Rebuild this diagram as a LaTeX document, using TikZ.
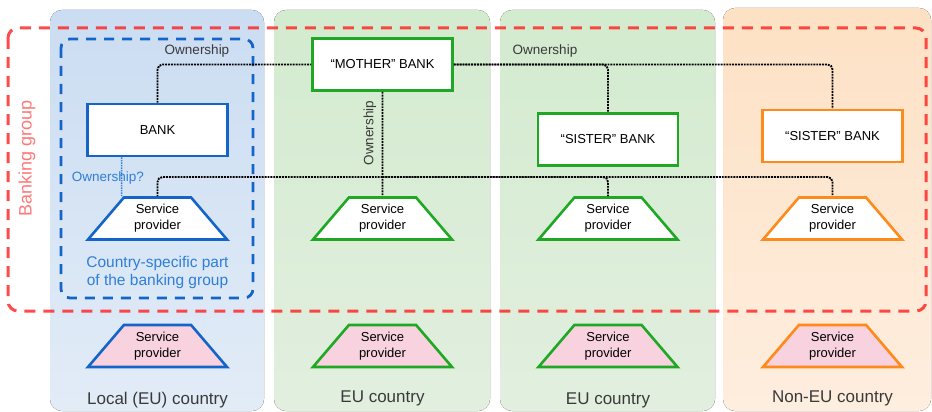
\documentclass[tikz,border=0pt]{standalone}
\usepackage{fontspec}
\setmainfont{Liberation Sans}
\usetikzlibrary{shapes.geometric}

\definecolor{bankblue}{HTML}{1565C8}
\definecolor{textblue}{HTML}{2F7FD8}
\definecolor{eugreen}{HTML}{1FA824}
\definecolor{noneu}{HTML}{FF8A1C}
\definecolor{spink}{HTML}{F8D2DE}
\definecolor{groupred}{HTML}{FF1E1E}
\definecolor{labelgray}{HTML}{3A3A3A}
\definecolor{bluetop}{HTML}{CBDDF2}
\definecolor{bluebot}{HTML}{E2ECF7}
\definecolor{greentop}{HTML}{D3EBCF}
\definecolor{greenbot}{HTML}{E2EFDF}
\definecolor{orangetop}{HTML}{FDE1C4}
\definecolor{orangebot}{HTML}{FEEEDF}

\tikzset{
  bankbox/.style={draw, line width=2.6pt, fill=white, minimum width=140pt, minimum height=52pt,
    font=\fontsize{13}{16}\selectfont},
  provider/.style={trapezium, trapezium left angle=40, trapezium right angle=40,
    trapezium stretches body, draw, line width=2.6pt, minimum width=139pt, minimum height=42pt,
    inner sep=1pt, align=center, font=\fontsize{13}{16}\selectfont},
  own/.style={densely dotted, line width=1.9pt, rounded corners=5pt},
  ownlabel/.style={text=labelgray, font=\fontsize{13.5}{16}\selectfont},
  country/.style={text=labelgray, font=\fontsize{17}{20}\selectfont}
}

\begin{document}
\begin{tikzpicture}[x=1pt, y=-1pt]
      \useasboundingbox (0,0) rectangle (932,412);

      % Draw the country panels
      \fill[rounded corners=12pt, top color=bluetop, bottom color=bluebot] (50,10) rectangle (264,411);
      \fill[rounded corners=12pt, top color=greentop, bottom color=greenbot] (274,10) rectangle (490,411);
      \fill[rounded corners=12pt, top color=greentop, bottom color=greenbot] (500,10) rectangle (715,411);
      \fill[rounded corners=12pt, top color=orangetop, bottom color=orangebot] (723,8) rectangle (931,411);

      % Draw the banking group and the country-specific part
      \draw[groupred, opacity=0.8, line width=3pt, dash pattern=on 11pt off 8pt, rounded corners=10pt]
        (8,28) rectangle (926,311);
      \draw[bankblue, line width=2.8pt, dash pattern=on 10pt off 8pt, rounded corners=9pt]
        (61,39) rectangle (253,298);
      \node[rotate=90, text=groupred!60!white, font=\fontsize{18}{20}\selectfont] (group) at (27,158) {Banking group};
      \node[align=center, text=textblue, font=\fontsize{15.5}{18}\selectfont] (part) at (157.5,272)
        {Country-specific part\\of the banking group};

      % Draw the banks
      \node[bankbox, draw=bankblue] (bank) at (157.5,130) {BANK};
      \node[bankbox, draw=eugreen] (mother) at (382.5,64.5) {“MOTHER” BANK};
      \node[bankbox, draw=eugreen] (sisterg) at (608,139.5) {“SISTER” BANK};
      \node[bankbox, draw=noneu] (sistero) at (832.5,136) {“SISTER” BANK};

      % Draw the service providers
      \foreach \x/\c/\n in {157.5/bankblue/spb, 382.5/eugreen/spg, 608/eugreen/sph, 832.5/noneu/spo}
        \node[provider, draw=\c, fill=white] (\n) at (\x,218.5) {Service\\provider};
      \foreach \x/\c/\n in {157.5/bankblue/xpb, 382.5/eugreen/xpg, 608/eugreen/xph, 832.5/noneu/xpo}
        \node[provider, draw=\c, fill=spink] (\n) at (\x,346) {Service\\provider};

      % Draw the ownership links
      \draw[own] (bank.north) |- (mother.west);
      \draw[own] (mother.east) -| (sisterg.north);
      \draw[own] (mother.east) -| (sistero.north);
      \draw[own] (mother.south) -- (spg.north);
      \coordinate (hub) at (382.5,177);
      \draw[own] (hub) -| (spb.north);
      \draw[own] (hub) -| (sph.north);
      \draw[own] (hub) -| (spo.north);
      \draw[textblue, densely dotted, line width=1.5pt] ([xshift=-36pt]bank.south) -- ([xshift=-36pt]spb.north);

      \node[ownlabel] (own1) at (197,51) {Ownership};
      \node[ownlabel] (own2) at (545,51) {Ownership};
      \node[ownlabel, rotate=90] (own3) at (370,133) {Ownership};
      \node[ownlabel, text=textblue] (own4) at (108,178) {Ownership?};

      % Draw the country names
      \node[country] (c1) at (157.5,400) {Local (EU) country};
      \node[country] (c2) at (382.5,398) {EU country};
      \node[country] (c3) at (608,400) {EU country};
      \node[country] (c4) at (832.5,398) {Non-EU country};
    \end{tikzpicture}
\end{document}
